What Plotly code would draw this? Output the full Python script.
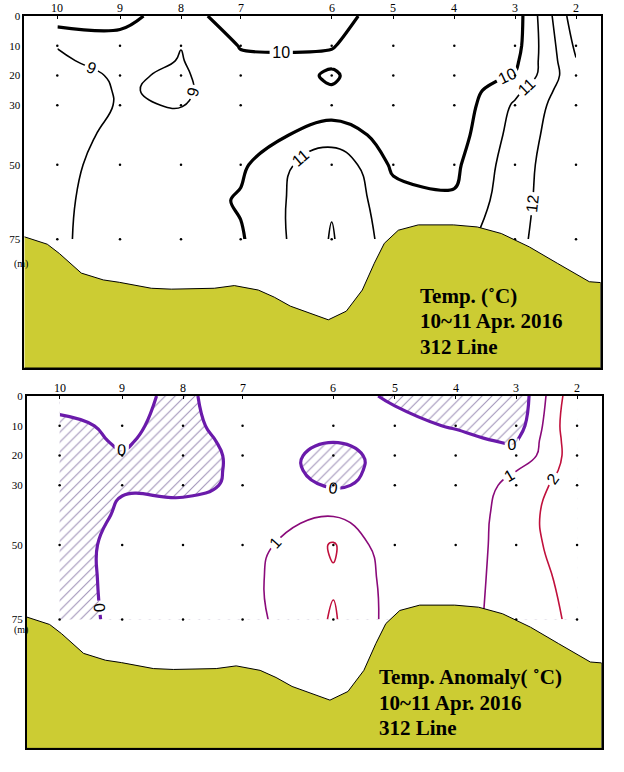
import plotly.graph_objects as go

# Stations along the 312 line (left to right) and their distance from the left frame edge
STATIONS = ['10', '9', '8', '7', '6', '5', '4', '3', '2']
STATION_DIST = [33, 95.7, 156.7, 216.4, 307.4, 369, 430, 490.7, 551.7]
X_MAX = 576.4

# depths used for the contour grid, and the standard observation depths (dots)
GRID_DEPTHS = [0, 10, 15, 20, 25, 30, 40, 50, 62, 75]
OBS_DEPTHS = [10, 20, 30, 50, 75]
DEPTH_TICKS = [0, 10, 20, 30, 50, 75]
Y_MAX = 118.3

# temperature (deg C), one list per depth, stations 10 -> 2
TEMP_0M = [10.55, 10.25, 9.6, 10.49, 10.4, 9.47, 9.4, 9.46, 13.63]
TEMP_10M = [9.05, 9.7, 9.02, 10.05, 10.03, 9.6, 9.5, 9.61, 13.18]
TEMP_15M = [8.8, 9.5, 8.95, 9.85, 9.9, 9.55, 9.5, 9.8, 12.95]
TEMP_20M = [8.7, 9.1, 8.9, 9.5, 10.08, 9.5, 9.6, 10.05, 12.72]
TEMP_25M = [8.6, 9.06, 8.88, 9.45, 9.95, 9.5, 9.35, 10.75, 12.74]
TEMP_30M = [8.68, 9.04, 8.98, 9.4, 9.6, 9.45, 9.35, 11.14, 12.79]
TEMP_40M = [8.6, 9.25, 9.2, 9.55, 10.4, 9.71, 9.52, 11.37, 12.88]
TEMP_50M = [8.7, 9.43, 9.4, 9.82, 11.85, 9.83, 9.8, 11.55, 12.9]
TEMP_62M = [8.75, 9.61, 9.5, 10.1, 11.9, 10.37, 10.1, 11.63, 12.9]
TEMP_75M = [8.8, 9.63, 9.6, 9.9, 12.08, 10.54, 10.6, 11.75, 12.9]

# temperature anomaly (deg C)
ANOM_0M = [0.25, 0.13, -0.1, 0.3, 0.135, -0.05, -0.3, -0.76, 2.84]
ANOM_10M = [-0.15, 0.12, -0.2, 0.33, 0.1, 0.1, -0.03, -0.5, 2.98]
ANOM_15M = [-0.3, 0.09, -0.34, 0.28, 0.02, 0.15, 0.1, -0.06, 2.72]
ANOM_20M = [-0.4, -0.05, -0.6, 0.3, -0.15, 0.16, 0.2, 0.21, 2.59]
ANOM_25M = [-0.4, -0.1, -0.6, 0.3, -0.15, 0.16, 0.25, 0.98, 2.46]
ANOM_30M = [-0.4, -0.05, -0.3, 0.2, -0.05, 0.13, 0.3, 1.3, 2.6]
ANOM_40M = [-0.4, 0.09, 0.45, 0.3, 0.95, 0.3, 0.34, 1.5, 2.78]
ANOM_50M = [-0.4, 0.26, 0.4, 0.43, 2.1, 0.2, 0.3, 1.6, 2.51]
ANOM_62M = [-0.4, 0.26, 0.5, 0.72, 1.9, 0.63, 0.4, 1.6, 2.25]
ANOM_75M = [-0.4, 0.21, 0.5, 0.57, 2.1, 0.61, 0.5, 1.6, 2.13]

# sea floor profile
GROUND_X = [0, 23, 35, 57, 79, 95, 127, 147, 190, 210, 234, 250, 266, 286, 304, 322,
            338, 350, 360, 374, 394, 429, 453, 477, 505, 533, 553, 565, 576.4]
GROUND_DEPTH = [74.2, 76.7, 79.8, 86.4, 88.7, 89.5, 91.5, 91.8, 91.5, 90.6, 92.1, 94.5,
                97.5, 99.9, 102.1, 99.2, 92.1, 83.1, 76.4, 72, 70.2, 70.2, 70.9, 73.1,
                77.6, 83.1, 87, 89.3, 89.6]

temp_z = [TEMP_0M, TEMP_10M, TEMP_15M, TEMP_20M, TEMP_25M, TEMP_30M,
          TEMP_40M, TEMP_50M, TEMP_62M, TEMP_75M]
anom_z = [ANOM_0M, ANOM_10M, ANOM_15M, ANOM_20M, ANOM_25M, ANOM_30M,
          ANOM_40M, ANOM_50M, ANOM_62M, ANOM_75M]

GROUND_COLOR = '#CCCC33'
SERIF = 'Liberation Serif'
W, H = 624, 772


def px_x(x):
    return x / W


def px_y(y):
    return 1 - y / H


fig = go.Figure()


def contour_lines(z, level_start, level_end, color, width, xa, ya, smooth=1.3):
    return go.Contour(
        x=STATION_DIST, y=GRID_DEPTHS, z=z, xaxis=xa, yaxis=ya,
        contours=dict(coloring='lines', start=level_start, end=level_end, size=1,
                      showlabels=True,
                      labelfont=dict(family='Liberation Sans', size=16, color='black')),
        colorscale=[[0, color], [1, color]], showscale=False,
        line=dict(width=width, smoothing=smooth), hoverinfo='skip')


def dots(xa, ya):
    xs = [d for _ in OBS_DEPTHS for d in STATION_DIST]
    ys = [dep for dep in OBS_DEPTHS for _ in STATION_DIST]
    return go.Scatter(x=xs, y=ys, mode='markers', xaxis=xa, yaxis=ya,
                      marker=dict(size=2.5, color='black'), hoverinfo='skip')


def ground(xa, ya):
    return go.Scatter(x=GROUND_X + [GROUND_X[-1], GROUND_X[0]],
                      y=GROUND_DEPTH + [Y_MAX, Y_MAX],
                      fill='toself', fillcolor=GROUND_COLOR, mode='lines',
                      line=dict(color='black', width=1), xaxis=xa, yaxis=ya,
                      hoverinfo='skip')


# --- top panel: temperature
fig.add_trace(contour_lines(temp_z, 9, 9, 'black', 1.6, 'x', 'y'))
fig.add_trace(contour_lines(temp_z, 11, 13, 'black', 1.6, 'x', 'y'))
fig.add_trace(contour_lines(temp_z, 10, 10, 'black', 3.2, 'x', 'y', smooth=1))
fig.add_trace(dots('x', 'y'))
fig.add_trace(ground('x', 'y'))

# --- bottom panel: anomaly, negative area hatched
fig.add_trace(go.Scatter(
    x=[STATION_DIST[0], STATION_DIST[-1], STATION_DIST[-1], STATION_DIST[0]],
    y=[GRID_DEPTHS[0], GRID_DEPTHS[0], GRID_DEPTHS[-1], GRID_DEPTHS[-1]],
    fill='toself', mode='lines', line=dict(width=0), fillcolor='white',
    fillpattern=dict(shape='/', fgcolor='#3E2370', bgcolor='white', size=7, solidity=0.15),
    xaxis='x2', yaxis='y2', hoverinfo='skip'))
# white cover over the positive area (plotly shades where the constraint fails)
fig.add_trace(go.Contour(
    x=STATION_DIST, y=GRID_DEPTHS, z=anom_z, xaxis='x3', yaxis='y3',
    contours=dict(type='constraint', operation='<', value=0),
    fillcolor='white', line=dict(width=0, smoothing=1.3), showscale=False,
    hoverinfo='skip'))
fig.add_trace(contour_lines(anom_z, 2, 2, '#C0103C', 1.6, 'x3', 'y3'))
fig.add_trace(contour_lines(anom_z, 1, 1, '#8A0A7A', 1.6, 'x3', 'y3'))
fig.add_trace(contour_lines(anom_z, 0, 0, '#6A1AAA', 3.2, 'x3', 'y3'))
fig.add_trace(dots('x3', 'y3'))
fig.add_trace(ground('x3', 'y3'))

x_common = dict(range=[0, X_MAX], side='top', tickmode='array', tickvals=STATION_DIST,
                showticklabels=False, ticks='inside', ticklen=3, tickcolor='black',
                showline=True, mirror=True, linecolor='black', linewidth=1.5,
                showgrid=False, zeroline=False, automargin=False)
y_common = dict(range=[Y_MAX, 0], tickmode='array', tickvals=DEPTH_TICKS,
                ticks='', showline=True, mirror=True, linecolor='black', linewidth=1.5,
                showgrid=False, zeroline=False, automargin=False,
                tickfont=dict(family=SERIF, size=11, color='black'))

fig.update_layout(
    width=W, height=H, margin=dict(l=0, r=0, t=0, b=0),
    paper_bgcolor='white', plot_bgcolor='white', showlegend=False,
    font=dict(family=SERIF, color='black'),
    xaxis=dict(x_common, domain=[px_x(24.3), px_x(600.7)], anchor='y'),
    yaxis=dict(y_common, domain=[px_y(368), px_y(16)], anchor='x'),
    xaxis2=dict(x_common, domain=[px_x(26.7), px_x(601.7)], anchor='y2'),
    yaxis2=dict(y_common, domain=[px_y(748.4), px_y(396)], anchor='x2'),
    xaxis3=dict(range=[0, X_MAX], overlaying='x2', visible=False, anchor='y3'),
    yaxis3=dict(range=[Y_MAX, 0], overlaying='y2', visible=False, anchor='x3'),
)

# station numbers above each panel
for xref, y_pos in (('x', 7.5), ('x2', 387.5)):
    for dist, name in zip(STATION_DIST, STATIONS):
        fig.add_annotation(text=name, x=dist, xref=xref, y=px_y(y_pos), yref='paper',
                           showarrow=False, yanchor='middle',
                           font=dict(family=SERIF, size=12, color='black'))

# unit label under the depth ticks
for y_pos in (256, 638):
    fig.add_annotation(text='(m)', x=px_x(12), y=px_y(y_pos), xref='paper', yref='paper',
                       showarrow=False, font=dict(family=SERIF, size=10, color='black'))

TITLE_TOP = ['Temp. (˚C)', '10~11 Apr. 2016', '312 Line']
TITLE_BOTTOM = ['Temp. Anomaly( ˚C)', '10~11 Apr. 2016', '312 Line']
for lines, x_pos, y0 in ((TITLE_TOP, 418, 296), (TITLE_BOTTOM, 377, 677)):
    for i, txt in enumerate(lines):
        fig.add_annotation(text='<b>%s</b>' % txt, x=px_x(x_pos), y=px_y(y0 + 25.5 * i),
                           xref='paper', yref='paper', xanchor='left', yanchor='middle',
                           showarrow=False, font=dict(family=SERIF, size=21, color='black'))

# drop the default 8px page margin so the figure sits at the window corner
fig.write_html('out.html', config={'displayModeBar': False},
               post_script="document.body.style.margin='0px';")
